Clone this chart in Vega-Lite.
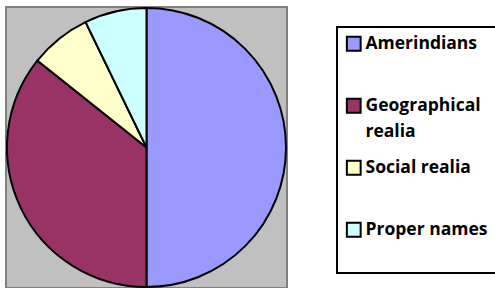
{
  "$schema": "https://vega.github.io/schema/vega-lite/v6.json",
  "width": 281,
  "height": 281,
  "autosize": "none",
  "padding": {"left": 6, "top": 7, "right": 208, "bottom": 0},
  "data": {
    "values": [
      {"category": "Amerindians", "share": 50.0, "rank": 1},
      {"category": "Geographical realia", "share": 35.7, "rank": 2},
      {"category": "Social realia", "share": 7.1, "rank": 3},
      {"category": "Proper names", "share": 7.2, "rank": 4}
    ]
  },
  "layer": [
    {
      "data": {"values": [{"panel": "plot area"}]},
      "mark": {"type": "rect", "fill": "#C0C0C0", "stroke": "#808080", "strokeWidth": 2},
      "encoding": {}
    },
    {
      "mark": {"type": "arc", "radius": 139.5, "stroke": "#000000", "strokeWidth": 2},
      "encoding": {
        "theta": {"field": "share", "type": "quantitative", "stack": true},
        "order": {"field": "rank", "type": "quantitative", "sort": "ascending"},
        "color": {
          "field": "category",
          "type": "nominal",
          "sort": ["Amerindians", "Geographical realia", "Social realia", "Proper names"],
          "scale": {
            "domain": ["Amerindians", "Geographical realia", "Social realia", "Proper names"],
            "range": ["#9999FF", "#993366", "#FFFFCC", "#CCFFFF"]
          },
          "legend": {
            "title": null,
            "orient": "none",
            "legendX": 331,
            "legendY": 20,
            "padding": 8,
            "strokeColor": "#000000",
            "symbolType": "square",
            "symbolSize": 190,
            "symbolStrokeColor": "#000000",
            "symbolStrokeWidth": 2,
            "labelFont": "Open Sans",
            "labelFontWeight": "bold",
            "labelFontSize": 17.5,
            "labelColor": "#000000",
            "labelOffset": 3,
            "labelLimit": 300,
            "rowPadding": 15,
            "labelExpr": "datum.label == 'Geographical realia' ? ['Geographical', 'realia'] : [datum.label, '']",
            "encode": {
              "legend": {"update": {"strokeWidth": {"value": 2}}},
              "labels": {"update": {"lineHeight": {"value": 26}}},
              "symbols": {"update": {"size": {"value": 190}, "stroke": {"value": "#000000"}, "strokeWidth": {"value": 2}}}
            }
          }
        }
      }
    }
  ],
  "config": {
    "view": {"stroke": null}
  }
}
